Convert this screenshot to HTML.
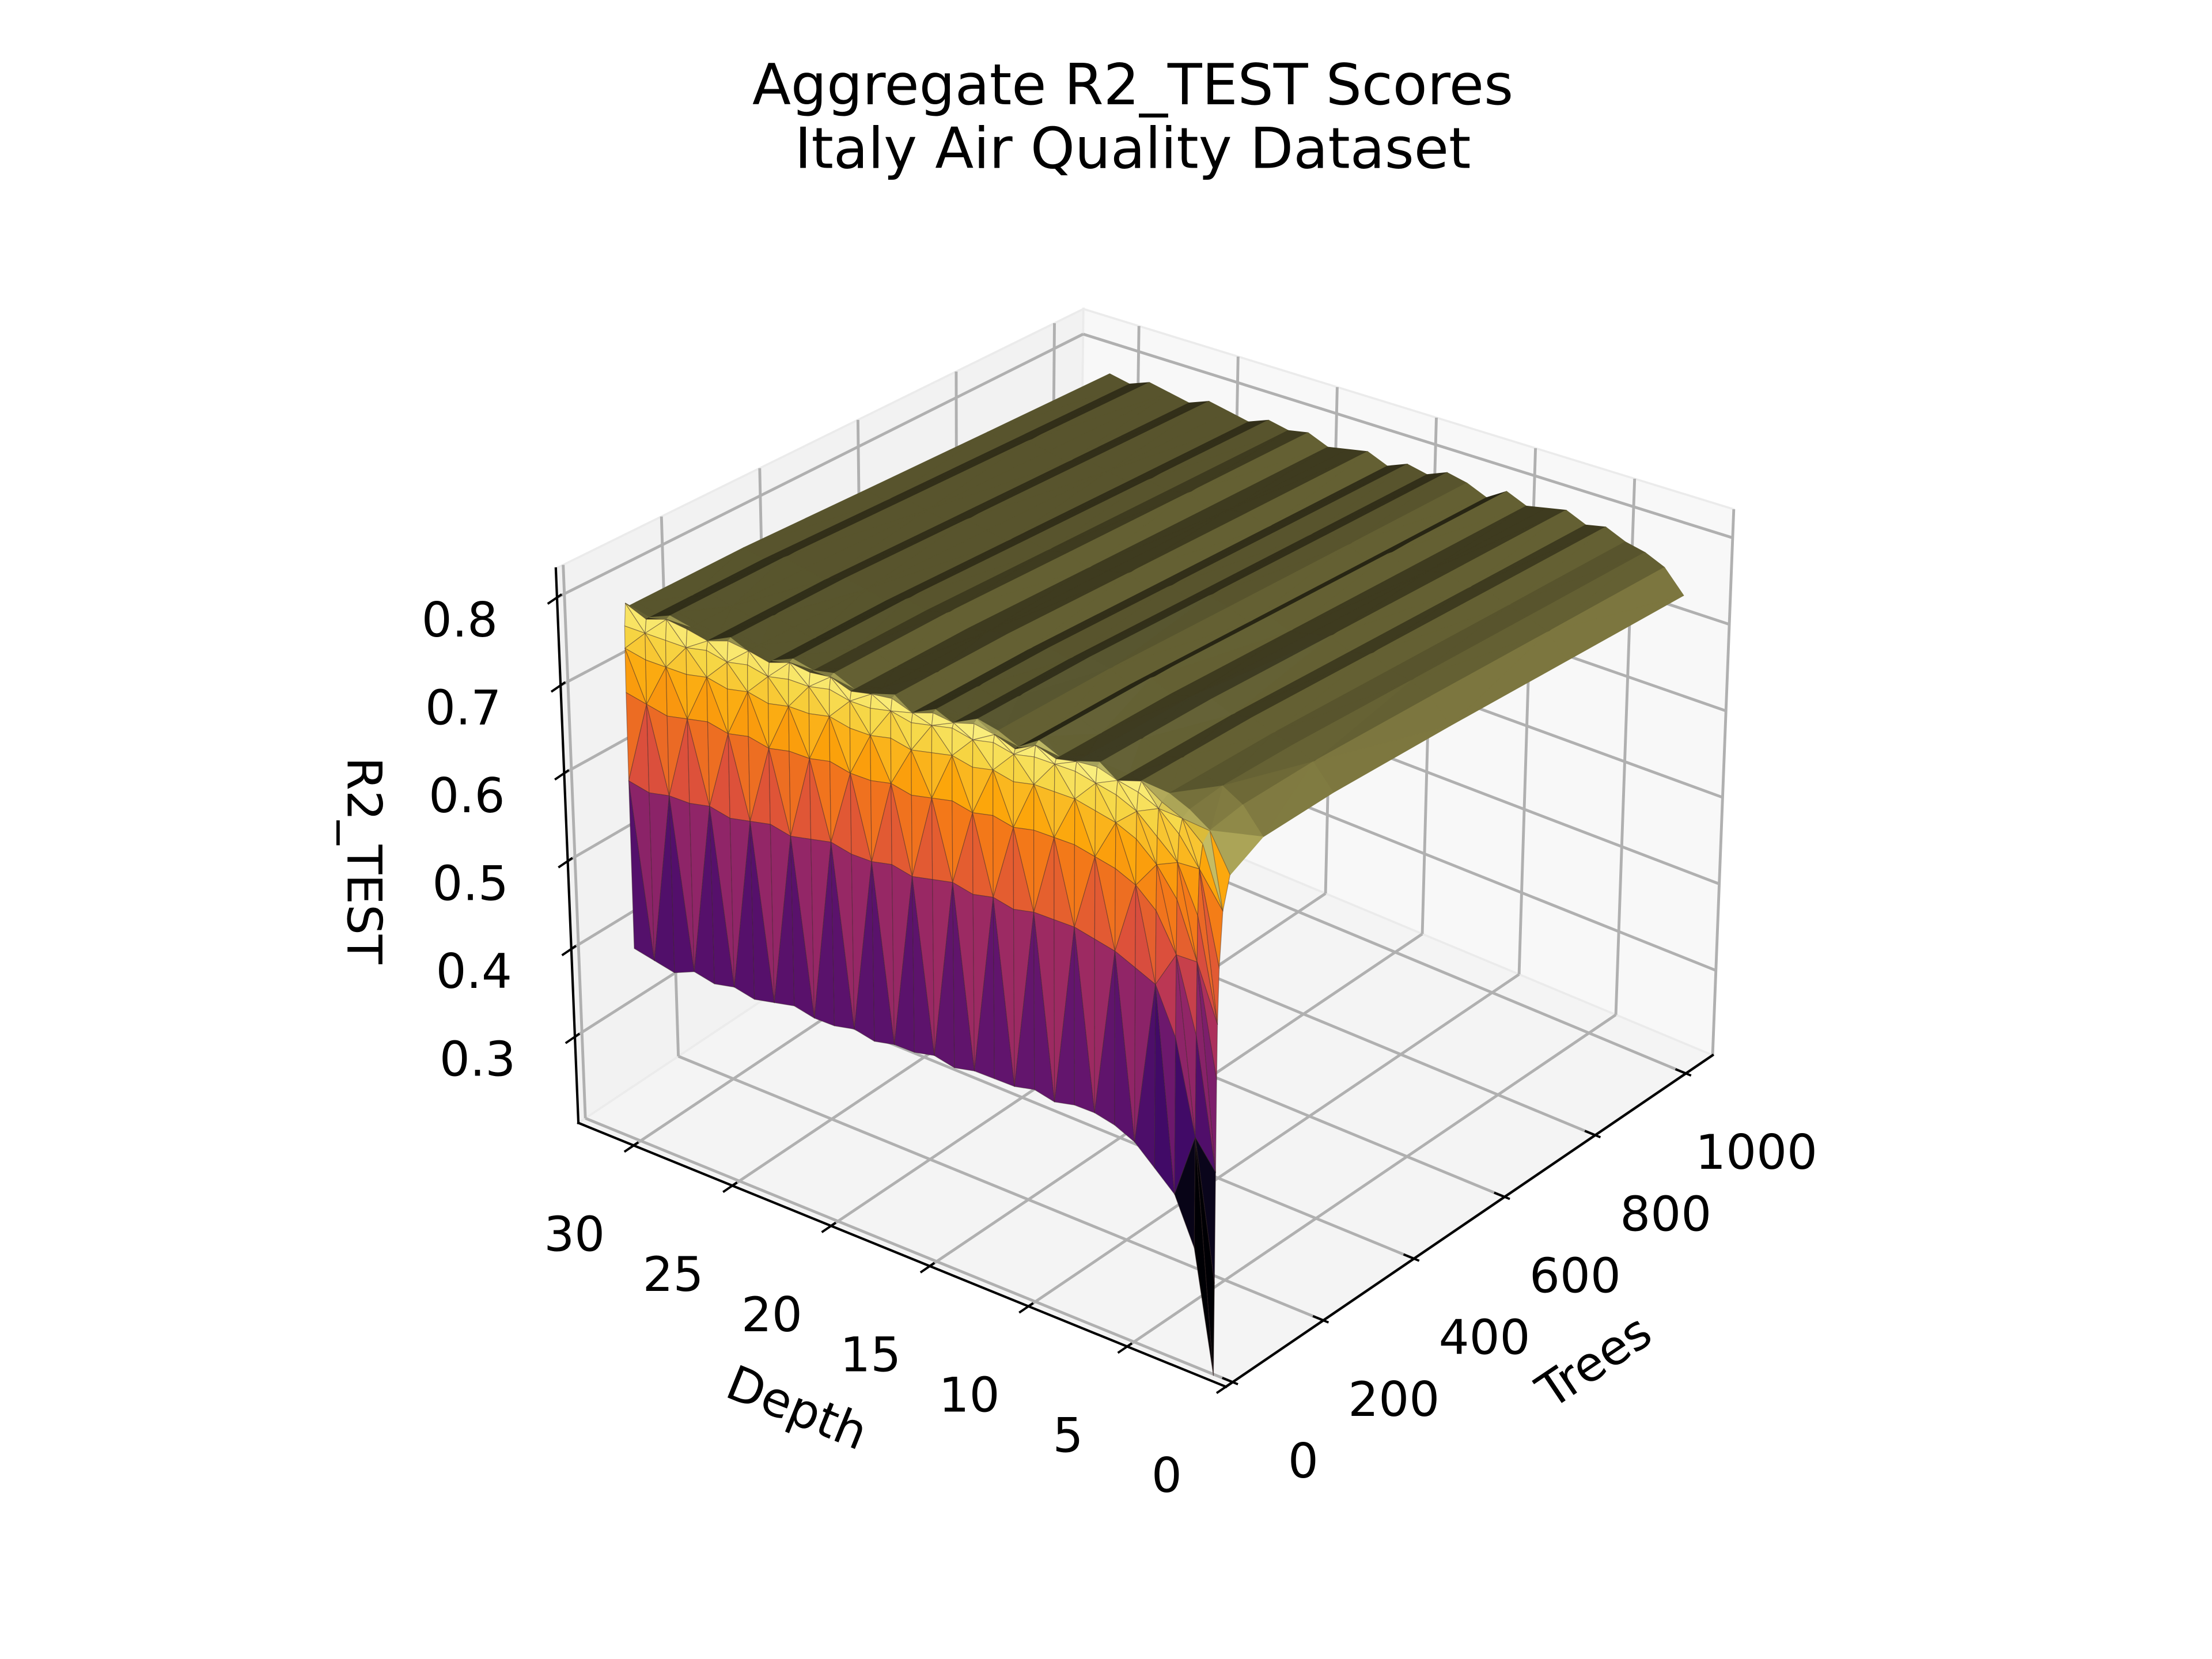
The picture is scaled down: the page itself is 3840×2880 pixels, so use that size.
<!DOCTYPE html>
<html><head><meta charset="utf-8"><title>Aggregate R2_TEST Scores</title>
<style>html,body{margin:0;padding:0;background:#fff;}svg{display:block;}</style></head>
<body>
<svg id="chart" xmlns="http://www.w3.org/2000/svg" width="3840" height="2880" viewBox="0 0 1568 1176" font-family="'DejaVu Sans','Liberation Sans',sans-serif">
<rect width="1568" height="1176" fill="#ffffff"/>
<text x="803" y="74" font-size="40" text-anchor="middle" fill="#000">Aggregate R2_TEST Scores</text>
<text x="803" y="119" font-size="40" text-anchor="middle" fill="#000">Italy Air Quality Dataset</text>
<g id="panes"></g>
<g id="grid"></g>
<g id="surface"></g>
<g id="axes"></g>
<text x="258" y="610" font-size="34" text-anchor="middle" dominant-baseline="central" transform="rotate(90 258 610)">R2_TEST</text>
<text x="565" y="998" font-size="34" text-anchor="middle" dominant-baseline="central" transform="rotate(22 565 998)">Depth</text>
<text x="1130" y="965" font-size="34" text-anchor="middle" dominant-baseline="central" transform="rotate(-34 1130 965)">Trees</text>
</svg>
<script>
const depths=[1,2,3,4,5,6,7,8,9,10,11,12,13,14,15,16,17,18,19,20,21,22,23,24,25,26,27,28,29,30];
const trees=[1,2,3,4,5,8,15,30,100,250,500,750,1000];
const r2_t1=[0.20,0.33,0.38,0.40,0.42,0.43,0.435,0.435,0.43,0.435,0.43,0.43,0.43,0.425,0.43,0.425,0.425,0.42,0.425,0.42,0.42,0.425,0.42,0.415,0.42,0.415,0.42,0.41,0.415,0.42];
const r2_t2=[0.30,0.45,0.55,0.60,0.61,0.62,0.625,0.63,0.63,0.63,0.625,0.63,0.625,0.63,0.625,0.62,0.625,0.62,0.62,0.625,0.62,0.615,0.62,0.615,0.61,0.615,0.61,0.61,0.605,0.61];
const r2_t3=[0.42,0.56,0.64,0.68,0.70,0.71,0.715,0.72,0.72,0.72,0.715,0.72,0.715,0.72,0.715,0.71,0.715,0.71,0.71,0.715,0.71,0.71,0.705,0.71,0.705,0.71,0.705,0.70,0.705,0.71];
const r2_t4=[0.52,0.64,0.70,0.73,0.75,0.76,0.765,0.77,0.77,0.77,0.765,0.77,0.765,0.77,0.765,0.76,0.765,0.76,0.76,0.765,0.76,0.76,0.755,0.76,0.755,0.76,0.755,0.755,0.755,0.76];
const r2_t5=[0.58,0.69,0.74,0.76,0.78,0.79,0.795,0.80,0.80,0.80,0.795,0.80,0.795,0.80,0.795,0.79,0.795,0.79,0.79,0.795,0.79,0.79,0.785,0.79,0.785,0.79,0.785,0.785,0.785,0.785];
const r2_t8=[0.64,0.74,0.77,0.79,0.80,0.805,0.812,0.81,0.805,0.812,0.80,0.808,0.812,0.805,0.808,0.80,0.808,0.805,0.80,0.808,0.805,0.808,0.80,0.805,0.808,0.80,0.805,0.808,0.80,0.81];
const r2_t15=[0.70,0.765,0.785,0.795,0.81,0.805,0.815,0.81,0.805,0.815,0.80,0.81,0.815,0.805,0.81,0.80,0.81,0.805,0.80,0.81,0.805,0.81,0.80,0.805,0.81,0.80,0.805,0.81,0.80,0.805];
const r2_t30=[0.735,0.775,0.79,0.80,0.81,0.805,0.815,0.81,0.805,0.815,0.80,0.81,0.815,0.805,0.81,0.80,0.81,0.805,0.80,0.81,0.805,0.81,0.80,0.805,0.81,0.80,0.805,0.81,0.80,0.805];
const r2_t100=[0.755,0.782,0.795,0.80,0.81,0.805,0.815,0.81,0.805,0.815,0.80,0.81,0.815,0.805,0.81,0.80,0.81,0.805,0.80,0.81,0.805,0.81,0.80,0.805,0.81,0.80,0.805,0.81,0.80,0.805];
const r2_t250=[0.758,0.784,0.795,0.80,0.81,0.805,0.815,0.81,0.805,0.815,0.80,0.81,0.815,0.805,0.81,0.80,0.81,0.805,0.80,0.81,0.805,0.81,0.80,0.805,0.81,0.80,0.805,0.81,0.80,0.805];
const r2_t500=[0.755,0.78,0.79,0.795,0.805,0.80,0.81,0.805,0.80,0.81,0.795,0.805,0.81,0.80,0.805,0.795,0.805,0.80,0.795,0.805,0.80,0.805,0.795,0.80,0.805,0.795,0.80,0.805,0.795,0.80];
const r2_t750=[0.75,0.775,0.785,0.79,0.80,0.795,0.805,0.80,0.795,0.805,0.79,0.80,0.805,0.795,0.80,0.79,0.80,0.795,0.79,0.80,0.795,0.80,0.79,0.795,0.80,0.79,0.795,0.80,0.79,0.795];
const r2_t1000=[0.745,0.77,0.78,0.785,0.795,0.79,0.80,0.795,0.79,0.80,0.785,0.795,0.80,0.79,0.795,0.785,0.795,0.79,0.785,0.795,0.79,0.795,0.785,0.79,0.795,0.785,0.79,0.795,0.785,0.79];
const r2Rows=[r2_t1,r2_t2,r2_t3,r2_t4,r2_t5,r2_t8,r2_t15,r2_t30,r2_t100,r2_t250,r2_t500,r2_t750,r2_t1000];
const depthTicks=[0,5,10,15,20,25,30];
const treesTicks=[0,200,400,600,800,1000];
const zTicks=[0.3,0.4,0.5,0.6,0.7,0.8];
const depthTickLabels=["0","5","10","15","20","25","30"];
const treesTickLabels=["0","200","400","600","800","1000"];
const zTickLabels=["0.3","0.4","0.5","0.6","0.7","0.8"];

const NS="http://www.w3.org/2000/svg";
const dMin=0,dMax=32.8,tMin=-15,tMax=1059,zMin=0.202,zMax=0.833;
const FB=[869,983],FA=[410,796],FC=[1214,748],FD=[764,560];
const TB=[872,570],TA=[394,403],TC=[1229,361],TD=[768,219];
function bil(P0,P1,P2,P3,u,v){return [P0[0]*(1-u)*(1-v)+P1[0]*u*(1-v)+P2[0]*(1-u)*v+P3[0]*u*v,P0[1]*(1-u)*(1-v)+P1[1]*u*(1-v)+P2[1]*(1-u)*v+P3[1]*u*v];}
function nu(d){return (d-dMin)/(dMax-dMin);}
function nv(t){return (t-tMin)/(tMax-tMin);}
function nw(z){return (z-zMin)/(zMax-zMin);}
function proj(d,t,z){const u=nu(d),v=nv(t),w=nw(z);const f=bil(FB,FA,FC,FD,u,v),g=bil(TB,TA,TC,TD,u,v);return [f[0]*(1-w)+g[0]*w,f[1]*(1-w)+g[1]*w];}
function mk(tag,parent,attrs){const e=document.createElementNS(NS,tag);for(const k in attrs)e.setAttribute(k,attrs[k]);parent.appendChild(e);return e;}
function pts(a){return a.map(p=>p[0].toFixed(2)+","+p[1].toFixed(2)).join(" ");}

const panes=document.getElementById("panes");
let el;
el=mk("polygon",panes,{points:pts([proj(dMax,tMin,zMin),proj(dMax,tMax,zMin),proj(dMax,tMax,zMax),proj(dMax,tMin,zMax)]),fill:"#f2f2f2",stroke:"#ebebeb","stroke-width":1.5});


el=mk("polygon",panes,{points:pts([proj(dMax,tMax,zMin),proj(dMin,tMax,zMin),proj(dMin,tMax,zMax),proj(dMax,tMax,zMax)]),fill:"#f8f8f8",stroke:"#ebebeb","stroke-width":1.5});


el=mk("polygon",panes,{points:pts([proj(dMin,tMin,zMin),proj(dMax,tMin,zMin),proj(dMax,tMax,zMin),proj(dMin,tMax,zMin)]),fill:"#f4f4f4",stroke:"#ebebeb","stroke-width":1.5});



const grid=document.getElementById("grid");
function gline(p,q,name){const e=mk("line",grid,{x1:p[0],y1:p[1],x2:q[0],y2:q[1],stroke:"#b0b0b0","stroke-width":2.0});

}
depthTicks.forEach(d=>{gline(proj(d,tMin,zMin),proj(d,tMax,zMin),"floor-grid-depth");gline(proj(d,tMax,zMin),proj(d,tMax,zMax),"right-pane-grid-depth");});
treesTicks.forEach(t=>{gline(proj(dMin,t,zMin),proj(dMax,t,zMin),"floor-grid-trees");gline(proj(dMax,t,zMin),proj(dMax,t,zMax),"left-pane-grid-trees");});
zTicks.forEach(z=>{gline(proj(dMax,tMin,z),proj(dMax,tMax,z),"left-pane-grid-z");gline(proj(dMin,tMax,z),proj(dMax,tMax,z),"right-pane-grid-z");});

const inf=[[0,0,4],[22,11,57],[66,10,104],[106,23,110],[147,38,103],[188,55,84],[221,81,58],[243,120,25],[252,165,10],[246,215,70],[252,255,164]];
function inferno(c){c=Math.max(0,Math.min(1,c))*10;const i=Math.min(9,Math.floor(c)),f=c-i;return inf[i].map((a,k)=>a+(inf[i+1][k]-a)*f);}
const cVmin=0.37,cVmax=0.825;

const surf=document.getElementById("surface");
const tris=[];
for(let j=0;j<trees.length-1;j++){for(let i=0;i<depths.length-1;i++){
  const p00=[depths[i],trees[j],r2Rows[j][i]],p10=[depths[i+1],trees[j],r2Rows[j][i+1]],
        p01=[depths[i],trees[j+1],r2Rows[j+1][i]],p11=[depths[i+1],trees[j+1],r2Rows[j+1][i+1]];
  if((i+j)%2===0){tris.push([p00,p10,p11]);tris.push([p00,p11,p01]);}
  else{tris.push([p00,p10,p01]);tris.push([p10,p11,p01]);}
}}
function nrm(a){return [nu(a[0]),nv(a[1]),nw(a[2])*0.75];}
tris.forEach(T=>{T.key=T.reduce((s,p)=>s+nu(p[0])+nv(p[1]),0)/3;});
tris.sort((a,b)=>b.key-a.key);
tris.forEach(T=>{
  const a=nrm(T[0]),b=nrm(T[1]),c=nrm(T[2]);
  const e1=[b[0]-a[0],b[1]-a[1],b[2]-a[2]],e2=[c[0]-a[0],c[1]-a[1],c[2]-a[2]];
  let n=[e1[1]*e2[2]-e1[2]*e2[1],e1[2]*e2[0]-e1[0]*e2[2],e1[0]*e2[1]-e1[1]*e2[0]];
  if(n[2]<0)n=n.map(x=>-x);
  const L=Math.hypot(n[0],n[1],n[2])||1;n=n.map(x=>x/L);
  const front=Math.max(0,-n[1]);
  let f=0.30+0.8*front-0.28*n[0];
  f=Math.max(0.16,Math.min(1,f));
  const zm=(T[0][2]+T[1][2]+T[2][2])/3;
  let cc=(zm-cVmin)/(cVmax-cVmin);
  if(front<0.5)cc=Math.max(cc,0.96);
  const col=inferno(cc).map(x=>Math.round(x*f));
  const fill="rgb("+col.join(",")+")";
  const steep=front>0.5;
  const poly=mk("polygon",surf,{points:pts(T.map(p=>proj(p[0],p[1],p[2]))),fill:fill,stroke:steep?"rgba(60,40,40,0.45)":fill,"stroke-width":steep?0.5:0.6,"stroke-linejoin":"round"});
  
  
});

const axes=document.getElementById("axes");
function aline(p,q,name,w){const e=mk("line",axes,{x1:p[0],y1:p[1],x2:q[0],y2:q[1],stroke:"#000","stroke-width":w,"stroke-linecap":"square"});

}
aline(proj(dMax,tMin,zMin),proj(dMax,tMin,zMax),"z-axis-line",1.7);
aline(proj(dMin,tMin,zMin),proj(dMax,tMin,zMin),"depth-axis-line",1.7);
aline(proj(dMin,tMin,zMin),proj(dMin,tMax,zMin),"trees-axis-line",1.7);
function unit(p,q){const dx=q[0]-p[0],dy=q[1]-p[1],l=Math.hypot(dx,dy);return [dx/l,dy/l];}
const treesDir=unit(proj(dMin,tMin,zMin),proj(dMin,tMax,zMin));
const depthOut=unit(proj(dMax,tMin,zMin),proj(dMin,tMin,zMin));
function tick(p,dir,out,inn,name){const e=mk("line",axes,{x1:p[0]-dir[0]*out,y1:p[1]-dir[1]*out,x2:p[0]+dir[0]*inn,y2:p[1]+dir[1]*inn,stroke:"#000","stroke-width":1.6});

}
function label(x,y,txt,name){const e=mk("text",axes,{x:x,y:y,"font-size":34,"text-anchor":"middle","dominant-baseline":"central",fill:"#000"});e.textContent=txt;

}
zTicks.forEach((z,k)=>{const p=proj(dMax,tMin,z);tick(p,treesDir,8,4,"z-tick");label(p[0]-69,p[1]+16,zTickLabels[k],"z-tick-label");});
depthTicks.forEach((d,k)=>{const p=proj(d,tMin,zMin);tick(p,treesDir,8,4,"depth-tick");label(p[0]-42,p[1]+63,depthTickLabels[k],"depth-tick-label");});
treesTicks.forEach((t,k)=>{const p=proj(dMin,t,zMin);tick(p,[-depthOut[0],-depthOut[1]],-8,-4,"trees-tick");label(p[0]+50,p[1]+56,treesTickLabels[k],"trees-tick-label");});
</script>
</body></html>
